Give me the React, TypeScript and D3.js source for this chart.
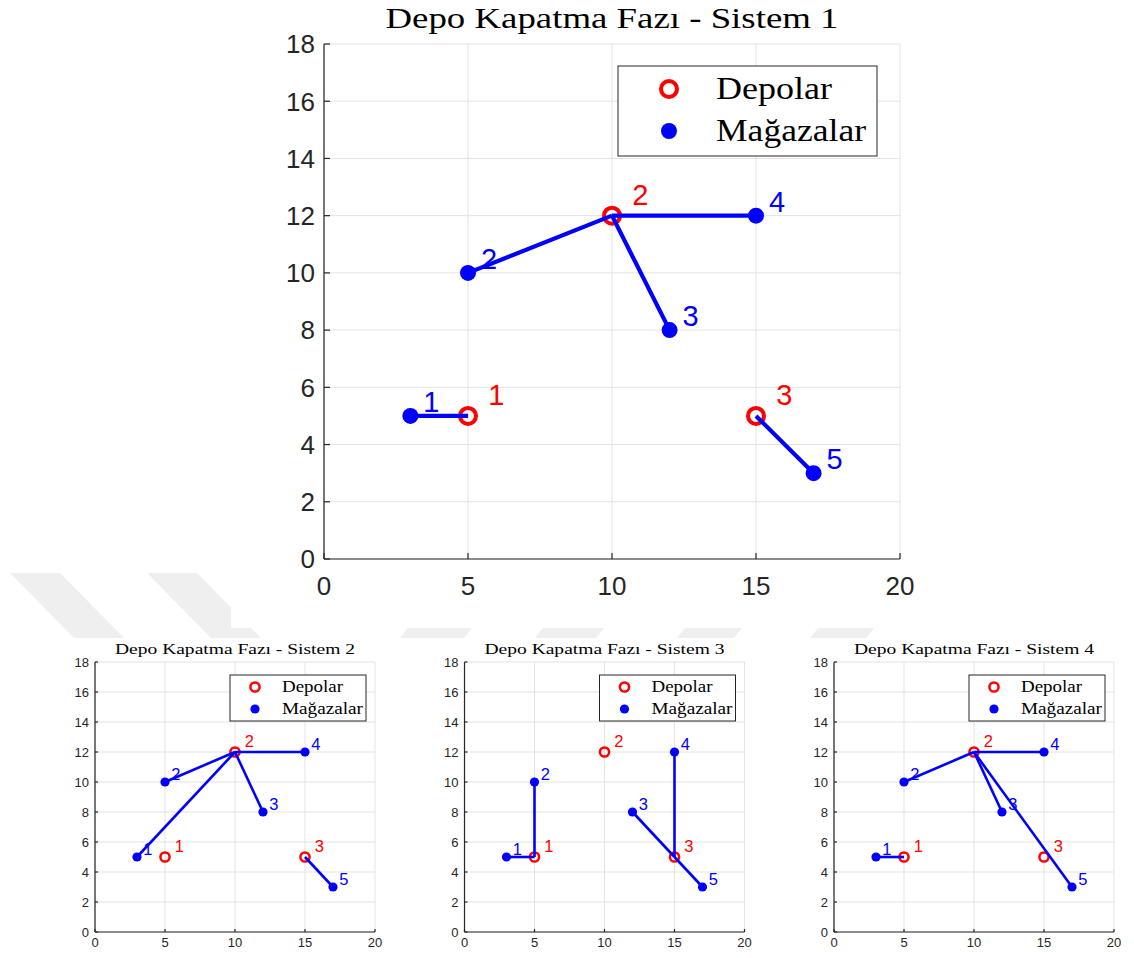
import React from "react";
import * as d3 from "d3";

// Facility locations (depots) and customer locations (stores)
const depotIds = [1, 2, 3];
const depotX = [5, 10, 15];
const depotY = [5, 12, 5];

const storeIds = [1, 2, 3, 4, 5];
const storeX = [3, 5, 12, 15, 17];
const storeY = [5, 10, 8, 12, 3];

// Depot assigned to each store, per system
const systemNames = ["Sistem 1", "Sistem 2", "Sistem 3", "Sistem 4"];
const assignSistem1 = [1, 2, 2, 2, 3];
const assignSistem2 = [2, 2, 2, 2, 3];
const assignSistem3 = [1, 1, 3, 3, 3];
const assignSistem4 = [1, 2, 2, 2, 2];
const assignments = [assignSistem1, assignSistem2, assignSistem3, assignSistem4];

const xTicks = [0, 5, 10, 15, 20];
const yTicks = [0, 2, 4, 6, 8, 10, 12, 14, 16, 18];
const titlePrefix = "Depo Kapatma Fazı - ";
const legendLabels = ["Depolar", "Mağazalar"];

const RED = "#ff0000";
const BLUE = "#0000ff";
const AXIS = "#262626";
const GRID = "#e3e3e3";
const SERIF = "'Liberation Serif', 'DejaVu Serif', serif";
const SANS = "'Liberation Sans', Arial, sans-serif";

type Layout = {
  x0: number; x1: number; yTop: number; yBot: number;
  tickFont: number; tickLen: number; yLabelGap: number; xLabelDy: number;
  titleSize: number; titleBaseline: number; titleWidth: number;
  markerR: number; ringStroke: number; lineW: number; labelFont: number;
  legend: { x: number; y: number; w: number; h: number; markerX: number; textX: number; row1: number; row2: number; font: number; w1: number; w2: number };
};

function mainLayout(): Layout {
  return {
    x0: 324, x1: 900, yTop: 44, yBot: 559,
    tickFont: 26, tickLen: 6, yLabelGap: 9, xLabelDy: 36,
    titleSize: 29, titleBaseline: 28, titleWidth: 453,
    markerR: 8, ringStroke: 4, lineW: 4.2, labelFont: 29,
    legend: { x: 618, y: 66, w: 259, h: 90, markerX: 669, textX: 716, row1: 89, row2: 131, font: 31, w1: 116, w2: 150 },
  };
}

function smallLayout(x0: number): Layout {
  return {
    x0, x1: x0 + 280, yTop: 662, yBot: 932,
    tickFont: 13, tickLen: 3, yLabelGap: 6, xLabelDy: 15,
    titleSize: 15.5, titleBaseline: 654, titleWidth: 240,
    markerR: 4.6, ringStroke: 2.5, lineW: 2.6, labelFont: 16.5,
    legend: { x: x0 + 135, y: 675, w: 136, h: 46, markerX: x0 + 160, textX: x0 + 187, row1: 687, row2: 709, font: 16, w1: 61, w2: 81 },
  };
}

function Panel({ L, name, assign }: { L: Layout; name: string; assign: number[] }) {
  const x = d3.scaleLinear().domain([0, 20]).range([L.x0, L.x1]);
  const y = d3.scaleLinear().domain([0, 18]).range([L.yBot, L.yTop]);
  const line = d3.line<[number, number]>().x((d) => x(d[0])).y((d) => y(d[1]));
  const lg = L.legend;
  return (
    <g>
      {/* grid */}
      {xTicks.map((t) => (
        <line key={"gx" + t} x1={x(t)} x2={x(t)} y1={y(0)} y2={y(18)} stroke={GRID} strokeWidth={1} />
      ))}
      {yTicks.map((t) => (
        <line key={"gy" + t} x1={x(0)} x2={x(20)} y1={y(t)} y2={y(t)} stroke={GRID} strokeWidth={1} />
      ))}
      {/* axes */}
      <line x1={x(0)} x2={x(20)} y1={y(0)} y2={y(0)} stroke={AXIS} strokeWidth={1.2} />
      <line x1={x(0)} x2={x(0)} y1={y(0)} y2={y(18)} stroke={AXIS} strokeWidth={1.2} />
      {xTicks.map((t) => (
        <g key={"tx" + t}>
          <line x1={x(t)} x2={x(t)} y1={y(0)} y2={y(0) - L.tickLen} stroke={AXIS} strokeWidth={1.2} />
          <text x={x(t)} y={y(0) + L.xLabelDy} textAnchor="middle" fontFamily={SANS} fontSize={L.tickFont} fill={AXIS}>{t}</text>
        </g>
      ))}
      {yTicks.map((t) => (
        <g key={"ty" + t}>
          <line x1={x(0)} x2={x(0) + L.tickLen} y1={y(t)} y2={y(t)} stroke={AXIS} strokeWidth={1.2} />
          <text x={x(0) - L.yLabelGap} y={y(t)} dy="0.36em" textAnchor="end" fontFamily={SANS} fontSize={L.tickFont} fill={AXIS}>{t}</text>
        </g>
      ))}
      {/* title */}
      <text x={(L.x0 + L.x1) / 2} y={L.titleBaseline} textAnchor="middle" fontFamily={SERIF} fontSize={L.titleSize}
        textLength={L.titleWidth} lengthAdjust="spacingAndGlyphs" fill="#000">{titlePrefix + name}</text>
      {/* depots */}
      {depotIds.map((id, i) => (
        <g key={"d" + id}>
          <circle cx={x(depotX[i])} cy={y(depotY[i])} r={L.markerR} fill="none" stroke={RED} strokeWidth={L.ringStroke} />
          <text x={x(depotX[i] + 0.7)} y={y(depotY[i] + 0.75)} dy="0.36em" fontFamily={SANS} fontSize={L.labelFont} fill={RED}>{id}</text>
        </g>
      ))}
      {/* stores */}
      {storeIds.map((id, i) => (
        <g key={"s" + id}>
          <circle cx={x(storeX[i])} cy={y(storeY[i])} r={L.markerR} fill={BLUE} />
          <text x={x(storeX[i] + 0.45)} y={y(storeY[i] + 0.5)} dy="0.36em" fontFamily={SANS} fontSize={L.labelFont} fill={BLUE}>{id}</text>
        </g>
      ))}
      {/* store-to-depot links */}
      {storeIds.map((id, i) => {
        const d = assign[i] - 1;
        return (
          <path key={"l" + id} d={line([[storeX[i], storeY[i]], [depotX[d], depotY[d]]]) || ""} stroke={BLUE} strokeWidth={L.lineW} fill="none" />
        );
      })}
      {/* legend */}
      <rect x={lg.x} y={lg.y} width={lg.w} height={lg.h} fill="#fff" stroke={AXIS} strokeWidth={1} />
      <circle cx={lg.markerX} cy={lg.row1} r={L.markerR} fill="none" stroke={RED} strokeWidth={L.ringStroke} />
      <circle cx={lg.markerX} cy={lg.row2} r={L.markerR} fill={BLUE} />
      <text x={lg.textX} y={lg.row1} dy="0.33em" fontFamily={SERIF} fontSize={lg.font} textLength={lg.w1} lengthAdjust="spacingAndGlyphs">{legendLabels[0]}</text>
      <text x={lg.textX} y={lg.row2} dy="0.33em" fontFamily={SERIF} fontSize={lg.font} textLength={lg.w2} lengthAdjust="spacingAndGlyphs">{legendLabels[1]}</text>
    </g>
  );
}

export default function App() {
  const layouts = [mainLayout(), smallLayout(95), smallLayout(464.5), smallLayout(834)];
  const wm = "#efefef";
  return (
    <svg width={1134} height={958} style={{ position: "absolute", left: 0, top: 0, background: "#fff" }}>
      <rect width={1134} height={958} fill="#fff" />
      {/* faint background mark */}
      <polygon points="10,573 60,573 124,638 74,638" fill={wm} />
      <polygon points="147,573 197,573 261,638 211,638" fill={wm} />
      <rect x={231} y={0} width={903} height={628} fill="#fff" />
      <polygon points="408,628 472,628 464,638 400,638" fill={wm} />
      <polygon points="543,628 604,628 596,638 535,638" fill={wm} />
      <polygon points="685,628 742,628 734,638 677,638" fill={wm} />
      <polygon points="818,628 874,628 866,638 810,638" fill={wm} />
      {layouts.map((L, k) => (
        <Panel key={k} L={L} name={systemNames[k]} assign={assignments[k]} />
      ))}
    </svg>
  );
}
